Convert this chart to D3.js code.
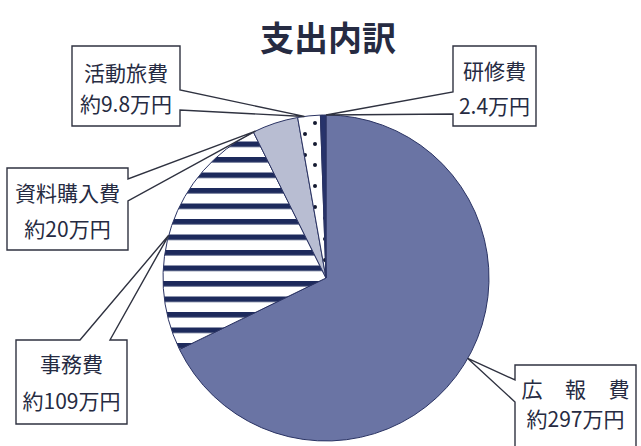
<!DOCTYPE html>
<html>
<head>
<meta charset="utf-8">
<script src="https://cdn.jsdelivr.net/npm/d3@7"></script>
<style>
  body { margin: 0; background: #fff; }
  svg { display: block; }
  text { font-family: "Noto Sans CJK JP", "Noto Sans", sans-serif; fill: #262b42; }
</style>
</head>
<body>
<div id="chart"></div>
<script>
// data (万円)
const title = '支出内訳';
const categories = ['広報費', '事務費', '資料購入費', '活動旅費', '研修費'];
const values = [297, 109, 20, 9.8, 2.4];
const valueLabels = ['約297万円', '約109万円', '約20万円', '約9.8万円', '2.4万円'];

const width = 641, height = 446;
const cx = 326, cy = 278, radius = 163;

// callout boxes: box, which side the pointer leaves from, gap on that side, where on the slice it points
const callouts = [
  { box: [515, 365, 636, 452], side: 'left', gap: [380, 402], frac: 0.49, l1: 23, l2: 53, spread: 108 },
  { box: [16, 340, 127, 424], side: 'top', gap: [80, 110], frac: 0.46, l1: 23, l2: 60 },
  { box: [7, 168, 128, 250], side: 'right', gap: [179, 201], frac: 0.05, l1: 24, l2: 60 },
  { box: [72, 46, 180, 126], side: 'right', gap: [90, 110], frac: 0.3, l1: 26, l2: 57 },
  { box: [453, 46, 536, 126], side: 'left', gap: [92, 114], frac: 1.0, l1: 24, l2: 59 }
];

const svg = d3.select('#chart')
  .append('svg')
  .attr('width', width)
  .attr('height', height);

// patterns
const defs = svg.append('defs');
const stripes = defs.append('pattern')
  .attr('id', 'stripes')
  .attr('patternUnits', 'userSpaceOnUse')
  .attr('width', 20).attr('height', 15.5)
  .attr('y', 3);
stripes.append('rect').attr('width', 20).attr('height', 15.5).attr('fill', '#ffffff');
stripes.append('rect').attr('y', 0).attr('width', 20).attr('height', 5.5).attr('fill', '#1d2a5c');

const dots = defs.append('pattern')
  .attr('id', 'dots')
  .attr('patternUnits', 'userSpaceOnUse')
  .attr('width', 20).attr('height', 21)
  .attr('x', 299).attr('y', 108);
dots.append('rect').attr('width', 20).attr('height', 21).attr('fill', '#ffffff');
[[10, 10], [0, 0], [20, 0], [0, 21], [20, 21]].forEach(p => {
  dots.append('circle').attr('cx', p[0]).attr('cy', p[1]).attr('r', 2).attr('fill', '#141a30');
});

const fills = ['#6a74a4', 'url(#stripes)', '#b8bdd2', 'url(#dots)', '#27336b'];

// title
svg.append('text')
  .attr('x', 328)
  .attr('y', 36)
  .attr('text-anchor', 'middle')
  .attr('dominant-baseline', 'central')
  .style('font-size', '34px')
  .style('font-weight', 'bold')
  .text(title);

const pie = d3.pie().sort(null).value(d => d);
const arcs = pie(values);

const arc = d3.arc().innerRadius(0).outerRadius(radius);

const g = svg.append('g').attr('transform', `translate(${cx}, ${cy})`);

g.selectAll('path.slice')
  .data(arcs)
  .enter()
  .append('path')
  .attr('class', 'slice')
  .attr('d', arc)
  .attr('fill', (d, i) => fills[i])
  .attr('stroke', '#2a3363')
  .attr('stroke-width', 1);

// callouts
function tipPoint(a, frac) {
  const ang = a.startAngle + (a.endAngle - a.startAngle) * frac;
  return [cx + radius * Math.sin(ang), cy - radius * Math.cos(ang)];
}

callouts.forEach((c, i) => {
  const [x0, y0, x1, y1] = c.box;
  const tip = tipPoint(arcs[i], c.frac);
  let p = d3.path();
  if (c.side === 'right') {
    p.moveTo(x0, y0); p.lineTo(x1, y0); p.lineTo(x1, c.gap[0]);
    p.lineTo(tip[0], tip[1]);
    p.lineTo(x1, c.gap[1]); p.lineTo(x1, y1); p.lineTo(x0, y1); p.closePath();
  } else if (c.side === 'left') {
    p.moveTo(x0, y0); p.lineTo(x1, y0); p.lineTo(x1, y1); p.lineTo(x0, y1);
    p.lineTo(x0, c.gap[1]);
    p.lineTo(tip[0], tip[1]);
    p.lineTo(x0, c.gap[0]); p.closePath();
  } else {
    p.moveTo(x0, y0); p.lineTo(c.gap[0], y0);
    p.lineTo(tip[0], tip[1]);
    p.lineTo(c.gap[1], y0); p.lineTo(x1, y0); p.lineTo(x1, y1); p.lineTo(x0, y1); p.closePath();
  }
  svg.append('path')
    .attr('d', p.toString())
    .attr('fill', '#ffffff')
    .attr('stroke', '#2f3240')
    .attr('stroke-width', 1.4)
    .attr('stroke-linejoin', 'miter');

  const mx = (x0 + x1) / 2;
  const t1 = svg.append('text')
    .attr('y', y0 + c.l1)
    .attr('dominant-baseline', 'central')
    .style('font-size', '21px')
    .text(categories[i]);
  if (c.spread) {
    t1.attr('x', mx - c.spread / 2)
      .attr('text-anchor', 'start')
      .attr('textLength', c.spread)
      .attr('lengthAdjust', 'spacing');
  } else {
    t1.attr('x', mx).attr('text-anchor', 'middle');
  }
  svg.append('text')
    .attr('x', mx)
    .attr('y', y0 + c.l2)
    .attr('text-anchor', 'middle')
    .attr('dominant-baseline', 'central')
    .style('font-size', '21px')
    .text(valueLabels[i]);
});
</script>
</body>
</html>
